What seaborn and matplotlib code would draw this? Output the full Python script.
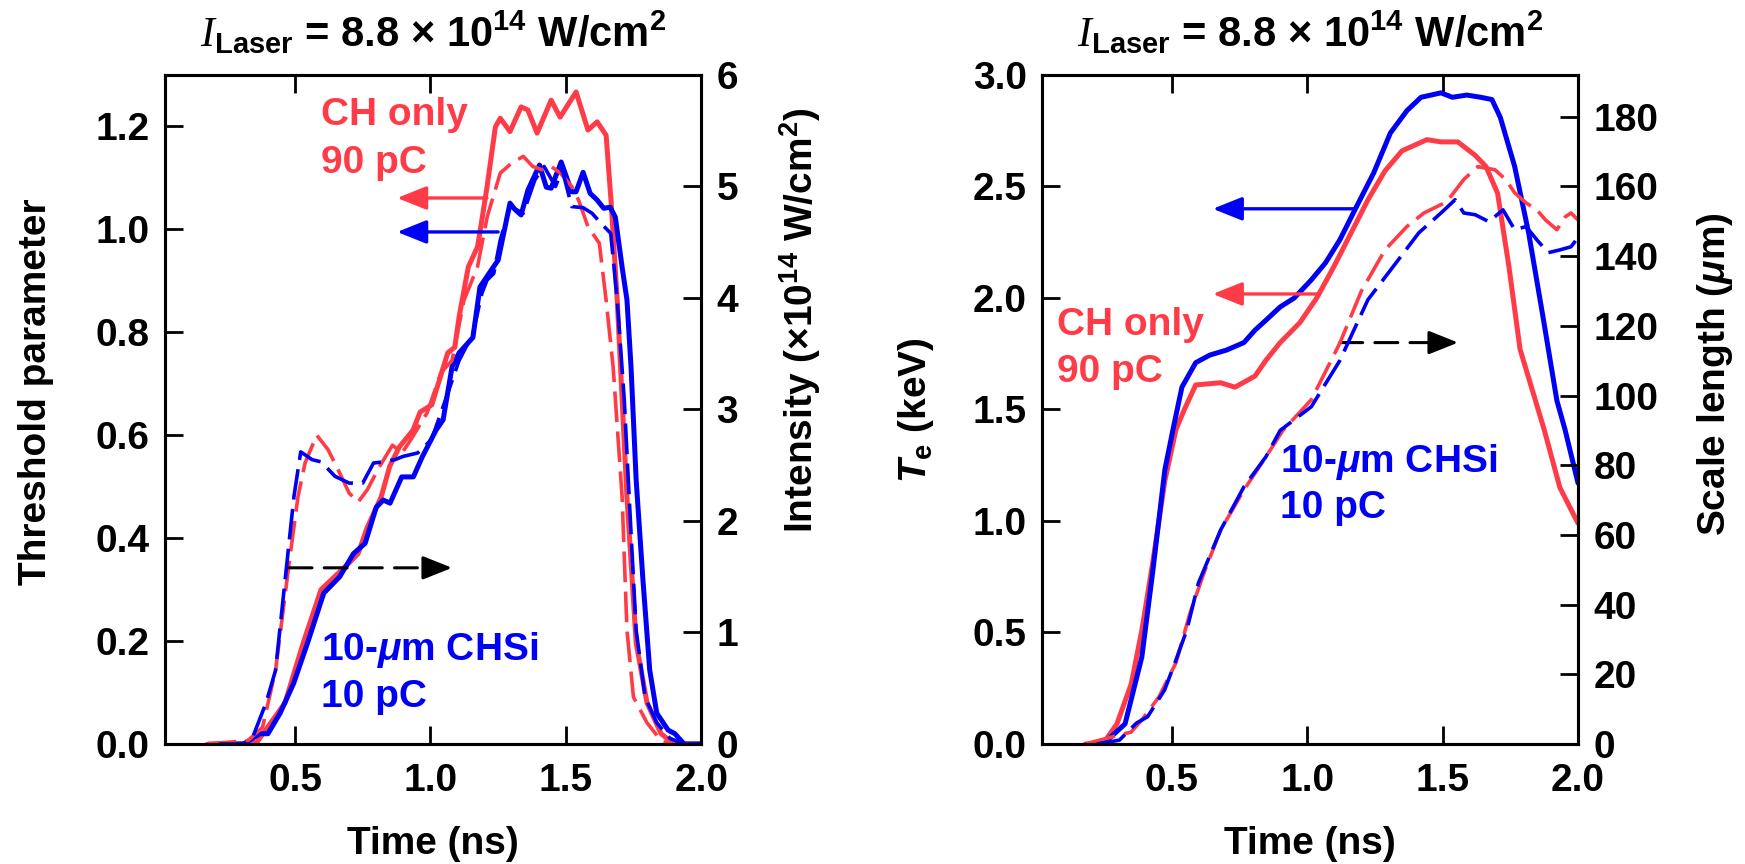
import matplotlib
matplotlib.use("Agg")
import matplotlib.pyplot as plt
import seaborn as sns

# ---------------- data ----------------
# left panel: threshold parameter (solid) and laser intensity (dashed)
ch_thr_t = [0.18, 0.30, 0.36, 0.463, 0.53, 0.596, 0.70, 0.733, 0.766, 0.818, 0.85, 0.885, 0.936, 0.962, 1.005,
            1.064, 1.09, 1.106, 1.14, 1.174, 1.19, 1.209, 1.24, 1.258, 1.294, 1.335, 1.36, 1.394, 1.446, 1.479,
            1.538, 1.582, 1.616, 1.649, 1.667, 1.69, 1.726, 1.76, 1.80, 1.852, 1.90, 2.0]
ch_thr = [0.0, 0.0, 0.004, 0.08, 0.196, 0.30, 0.352, 0.37, 0.42, 0.48, 0.54, 0.577, 0.61, 0.645, 0.659,
          0.76, 0.771, 0.83, 0.927, 0.966, 1.018, 1.082, 1.199, 1.216, 1.19, 1.238, 1.232, 1.187, 1.251, 1.218,
          1.267, 1.193, 1.209, 1.183, 1.057, 0.863, 0.48, 0.196, 0.08, 0.02, 0.0, 0.0]

si_thr_t = [0.215, 0.31, 0.37, 0.40, 0.445, 0.495, 0.546, 0.606, 0.665, 0.716, 0.759, 0.80, 0.826, 0.851, 0.894,
            0.937, 0.97, 1.021, 1.047, 1.08, 1.106, 1.157, 1.183, 1.225, 1.25, 1.294, 1.31, 1.335, 1.36, 1.403,
            1.428, 1.446, 1.483, 1.522, 1.538, 1.564, 1.59, 1.616, 1.64, 1.664, 1.683, 1.708, 1.726, 1.741, 1.76,
            1.785, 1.81, 1.836, 1.878, 1.903, 1.937, 2.0]
si_thr = [0.0, 0.0, 0.02, 0.02, 0.06, 0.118, 0.196, 0.293, 0.325, 0.37, 0.39, 0.46, 0.474, 0.468, 0.519,
          0.519, 0.558, 0.61, 0.63, 0.733, 0.76, 0.79, 0.888, 0.921, 0.94, 1.051, 1.04, 1.028, 1.076, 1.125,
          1.082, 1.08, 1.131, 1.073, 1.073, 1.111, 1.07, 1.057, 1.041, 1.043, 1.024, 0.927, 0.863, 0.733, 0.513,
          0.319, 0.144, 0.06, 0.027, 0.02, 0.0, 0.0]

ch_int_t = [0.17, 0.326, 0.38, 0.428, 0.478, 0.511, 0.537, 0.58, 0.622, 0.665, 0.70, 0.733, 0.767, 0.81, 0.86,
            0.895, 0.928, 0.988, 1.039, 1.08, 1.124, 1.174, 1.21, 1.258, 1.30, 1.343, 1.378, 1.412, 1.446, 1.48,
            1.522, 1.547, 1.582, 1.624, 1.649, 1.675, 1.708, 1.726, 1.75, 1.80, 1.852, 1.885, 2.0]
ch_int = [0.0, 0.03, 0.15, 0.66, 1.62, 2.22, 2.52, 2.77, 2.64, 2.43, 2.25, 2.17, 2.28, 2.48, 2.68,
          2.61, 2.73, 2.97, 3.33, 3.44, 3.98, 4.28, 4.73, 5.12, 5.21, 5.27, 5.18, 5.15, 5.18, 5.12,
          5.0, 4.88, 4.64, 4.49, 3.98, 3.38, 2.22, 1.02, 0.42, 0.19, 0.03, 0.0, 0.0]

si_int_t = [0.22, 0.334, 0.393, 0.428, 0.462, 0.496, 0.521, 0.563, 0.597, 0.648, 0.70, 0.75, 0.79, 0.826, 0.869,
            0.90, 0.953, 1.004, 1.039, 1.106, 1.157, 1.19, 1.209, 1.234, 1.258, 1.294, 1.343, 1.386, 1.42, 1.462,
            1.487, 1.522, 1.564, 1.597, 1.63, 1.666, 1.69, 1.716, 1.734, 1.76, 1.793, 1.836, 1.885, 1.937, 2.0]
si_int = [0.0, 0.0, 0.37, 0.66, 1.44, 2.22, 2.62, 2.55, 2.53, 2.40, 2.34, 2.34, 2.52, 2.53, 2.55,
          2.58, 2.61, 2.73, 2.97, 3.44, 3.68, 4.04, 4.16, 4.22, 4.52, 4.82, 4.76, 5.06, 5.18, 5.0,
          5.15, 4.82, 4.81, 4.76, 4.67, 4.58, 3.98, 3.09, 2.22, 1.02, 0.42, 0.19, 0.05, 0.0, 0.0]

# right panel: electron temperature (solid) and scale length (dashed)
ch_te_t = [0.18, 0.245, 0.297, 0.35, 0.389, 0.43, 0.474, 0.515, 0.546, 0.588, 0.68, 0.733, 0.807, 0.847, 0.90,
           0.973, 1.035, 1.098, 1.161, 1.224, 1.287, 1.35, 1.442, 1.494, 1.556, 1.62, 1.66, 1.703, 1.745, 1.786,
           1.875, 1.933, 2.0]
ch_te = [0.0, 0.0, 0.09, 0.27, 0.51, 0.82, 1.18, 1.41, 1.50, 1.61, 1.62, 1.60, 1.65, 1.72, 1.80,
         1.89, 2.0, 2.14, 2.29, 2.44, 2.57, 2.66, 2.71, 2.70, 2.70, 2.64, 2.59, 2.47, 2.14, 1.77,
         1.41, 1.15, 0.99]

si_te_t = [0.212, 0.264, 0.327, 0.389, 0.43, 0.474, 0.504, 0.537, 0.588, 0.64, 0.703, 0.766, 0.807, 0.847, 0.90,
           0.952, 1.014, 1.067, 1.12, 1.182, 1.245, 1.307, 1.368, 1.42, 1.494, 1.536, 1.589, 1.641, 1.682, 1.713,
           1.766, 1.818, 1.87, 1.922, 1.952, 2.0]
si_te = [0.0, 0.02, 0.09, 0.39, 0.78, 1.23, 1.41, 1.60, 1.71, 1.744, 1.767, 1.80, 1.856, 1.90, 1.96,
         2.0, 2.08, 2.157, 2.26, 2.41, 2.56, 2.74, 2.84, 2.90, 2.92, 2.90, 2.91, 2.90, 2.89, 2.81,
         2.59, 2.29, 1.92, 1.54, 1.41, 1.17]

ch_len_t = [0.18, 0.306, 0.349, 0.389, 0.452, 0.515, 0.567, 0.618, 0.68, 0.766, 0.847, 0.91, 1.015, 1.12, 1.20,
            1.287, 1.368, 1.431, 1.515, 1.578, 1.63, 1.693, 1.733, 1.766, 1.808, 1.848, 1.88, 1.922, 1.953, 1.974,
            2.0]
ch_len = [0.0, 2.6, 3.4, 6.9, 13.5, 23.3, 37.6, 49.0, 61.4, 72.9, 82.4, 90.0, 98.8, 115.0, 130.0,
          141.8, 148.5, 152.4, 155.6, 162.0, 165.7, 164.8, 162.0, 158.2, 155.3, 153.3, 150.4, 147.6, 151.3, 152.4,
          150.4]

si_len_t = [0.223, 0.306, 0.369, 0.41, 0.473, 0.515, 0.555, 0.598, 0.68, 0.766, 0.847, 0.90, 1.015, 1.12, 1.224,
            1.327, 1.412, 1.494, 1.546, 1.578, 1.62, 1.671, 1.723, 1.766, 1.808, 1.848, 1.89, 1.933, 1.974, 2.0]
si_len = [0.0, 1.1, 6.0, 7.8, 15.5, 24.1, 32.7, 46.2, 61.4, 73.8, 82.4, 90.0, 96.8, 110.0, 127.5,
          138.0, 146.7, 152.4, 156.2, 152.4, 151.9, 149.9, 153.3, 147.6, 148.5, 144.7, 141.0, 141.8, 142.7, 145.3]

# ---------------- style ----------------
RED = "#FF3B47"
BLUE = "#0000F5"
FONT = ["Liberation Sans", "DejaVu Sans"]

sns.set_style("ticks")
plt.rcParams["font.family"] = FONT
plt.rcParams["font.weight"] = "bold"
for key in ["text.color", "axes.labelcolor", "xtick.color", "ytick.color", "axes.edgecolor"]:
    plt.rcParams[key] = "black"
plt.rcParams["mathtext.fontset"] = "custom"
plt.rcParams["mathtext.rm"] = "Liberation Sans:style=normal:weight=normal"
plt.rcParams["mathtext.bf"] = "Liberation Sans:style=normal:weight=bold"
plt.rcParams["mathtext.it"] = "Liberation Sans:style=italic:weight=bold"
plt.rcParams["mathtext.sf"] = "Liberation Serif:style=italic:weight=normal"
plt.rcParams["axes.linewidth"] = 2.2

FS = 28
SOLID_LW = 3.6
DASH_LW = 2.6
DASH = (0, (8.5, 2.6))

fig = plt.figure(figsize=(17.45, 8.64), dpi=100)
axL = fig.add_axes([0.0946, 0.1389, 0.3072, 0.7743])
axR = fig.add_axes([0.5971, 0.1389, 0.3072, 0.7743])
axL2 = axL.twinx()
axR2 = axR.twinx()


def style(ax, ax2, ylim, yticks, y2lim, y2ticks, yfmt):
    ax.set_xlim(0.02, 2.0)
    ax.set_ylim(*ylim)
    ax2.set_ylim(*y2lim)
    ax.set_xticks([0.5, 1.0, 1.5, 2.0])
    ax.set_xticklabels(["0.5", "1.0", "1.5", "2.0"])
    ax.set_yticks(yticks)
    ax.set_yticklabels([yfmt.format(v) for v in yticks])
    ax2.set_yticks(y2ticks)
    ax2.set_yticklabels([str(v) for v in y2ticks])
    ax.tick_params(axis="both", direction="in", length=13, width=2, labelsize=FS, pad=11)
    ax.tick_params(axis="x", top=True, bottom=True, pad=14)
    ax.tick_params(axis="y", left=True, right=False)
    ax2.tick_params(axis="y", direction="in", length=13, width=2, labelsize=FS, pad=11)
    ax.set_xlabel("")
    ax.set_ylabel("")
    ax2.set_ylabel("")
    for a in (ax, ax2):
        for s in a.spines.values():
            s.set_linewidth(2.2)


line_kw = dict(estimator=None, sort=False, solid_joinstyle="round", dash_joinstyle="round")

# ---------------- left panel ----------------
sns.lineplot(x=ch_thr_t, y=ch_thr, ax=axL, color=RED, lw=SOLID_LW, **line_kw)
sns.lineplot(x=si_thr_t, y=si_thr, ax=axL, color=BLUE, lw=SOLID_LW, **line_kw)
sns.lineplot(x=ch_int_t, y=ch_int, ax=axL2, color=RED, lw=DASH_LW, linestyle=DASH, **line_kw)
sns.lineplot(x=si_int_t, y=si_int, ax=axL2, color=BLUE, lw=DASH_LW, linestyle=DASH, **line_kw)
style(axL, axL2, (0, 1.3), [0.0, 0.2, 0.4, 0.6, 0.8, 1.0, 1.2], (0, 6), [0, 1, 2, 3, 4, 5, 6], "{:.1f}")

# ---------------- right panel ----------------
sns.lineplot(x=ch_te_t, y=ch_te, ax=axR, color=RED, lw=SOLID_LW, **line_kw)
sns.lineplot(x=si_te_t, y=si_te, ax=axR, color=BLUE, lw=SOLID_LW, **line_kw)
sns.lineplot(x=ch_len_t, y=ch_len, ax=axR2, color=RED, lw=DASH_LW, linestyle=DASH, **line_kw)
sns.lineplot(x=si_len_t, y=si_len, ax=axR2, color=BLUE, lw=DASH_LW, linestyle=DASH, **line_kw)
style(axR, axR2, (0, 3.0), [0.0, 0.5, 1.0, 1.5, 2.0, 2.5, 3.0], (0, 192), list(range(0, 181, 20)), "{:.1f}")

# ---------------- arrows ----------------
HEAD = "-|>,head_length=0.6,head_width=0.24"


def solid_arrow(ax, x0, x1, y, color):
    ax.annotate("", xy=(x1, y), xytext=(x0, y),
                arrowprops=dict(arrowstyle=HEAD, mutation_scale=30, lw=2.4, color=color,
                                shrinkA=0, shrinkB=0))


def dashed_arrow(ax, x0, x1, y):
    ax.annotate("", xy=(x1 - 0.04, y), xytext=(x0, y),
                arrowprops=dict(arrowstyle="-", lw=2.2, color="black", linestyle=(0, (7.5, 4)),
                                shrinkA=0, shrinkB=0))
    ax.annotate("", xy=(x1, y), xytext=(x1 - 0.05, y),
                arrowprops=dict(arrowstyle=HEAD, mutation_scale=30, lw=2.2, color="black",
                                shrinkA=0, shrinkB=0))


solid_arrow(axL, 1.209, 0.877, 1.061, RED)
solid_arrow(axL, 1.25, 0.877, 0.995, BLUE)
dashed_arrow(axL2, 0.478, 1.08, 1.58)

solid_arrow(axR, 1.172, 0.651, 2.40, BLUE)
solid_arrow(axR, 1.036, 0.651, 2.018, RED)
dashed_arrow(axR, 1.12, 1.557, 1.80)

# ---------------- annotations ----------------
axL.text(0.596, 1.222, "CH only", color=RED, fontsize=FS, ha="left", va="center")
axL.text(0.596, 1.129, "90 pC", color=RED, fontsize=FS, ha="left", va="center")
axL.text(0.596, 0.183, r"10-$\mu$m CHSi", color=BLUE, fontsize=FS, ha="left", va="center")
axL.text(0.596, 0.091, "10 pC", color=BLUE, fontsize=FS, ha="left", va="center")

axR.text(0.075, 1.88, "CH only", color=RED, fontsize=FS, ha="left", va="center")
axR.text(0.075, 1.67, "90 pC", color=RED, fontsize=FS, ha="left", va="center")
axR.text(0.90, 1.265, r"10-$\mu$m CHSi", color=BLUE, fontsize=FS, ha="left", va="center")
axR.text(0.90, 1.06, "10 pC", color=BLUE, fontsize=FS, ha="left", va="center")

# ---------------- titles and axis labels ----------------
title = r"$\mathsf{I}_{\mathbf{Laser}}$ = 8.8 × 10$^{\mathbf{14}}$ W/cm$^{\mathbf{2}}$"
for cx in (433, 1310):
    fig.text(cx / 1745, 1 - 47 / 864, title, fontsize=30, ha="center", va="baseline")
    fig.text(cx / 1745, 1 - 844 / 864, "Time (ns)", fontsize=FS, ha="center", va="center")

fig.text(36 / 1745, 1 - 392 / 864, "Threshold parameter", fontsize=FS,
         rotation=90, ha="center", va="center")
fig.text(800 / 1745, 1 - 320 / 864, r"Intensity (×10$^{\mathbf{14}}$ W/cm$^{\mathbf{2}}$)", fontsize=FS,
         rotation=90, ha="center", va="center")
fig.text(916 / 1745, 1 - 410 / 864, r"$\mathit{T}_{\mathbf{e}}$ (keV)", fontsize=FS,
         rotation=90, ha="center", va="center")
fig.text(1715 / 1745, 1 - 374 / 864, r"Scale length ($\mu$m)", fontsize=FS,
         rotation=90, ha="center", va="center")

fig.savefig("out.png", dpi=100)
